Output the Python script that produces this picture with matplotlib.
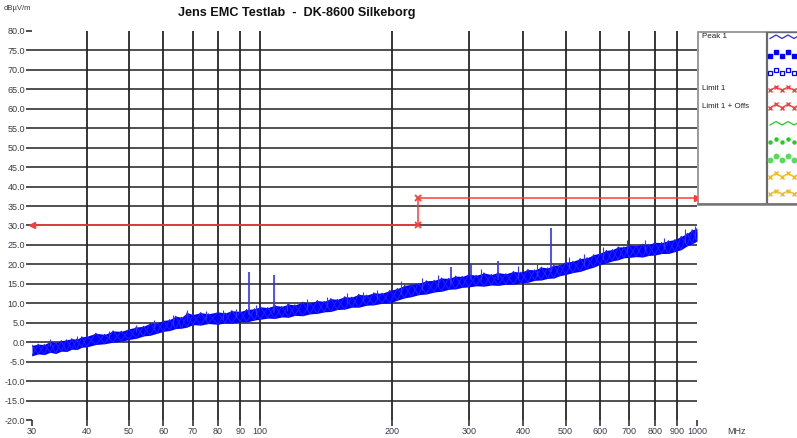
import matplotlib
matplotlib.use("Agg")
import matplotlib.pyplot as plt

plt.rcParams['font.family'] = ['Liberation Sans', 'DejaVu Sans']

# ---------------- data ----------------
freq = [30, 31, 32, 33, 34, 35, 36, 37, 38, 39, 40, 42, 44, 46, 48, 50, 52, 54, 56, 58,
        60, 62, 64, 66, 68, 70, 73, 76, 80, 83, 86, 90, 93, 97, 100, 104, 108, 112, 116, 120,
        125, 130, 135, 140, 145, 150, 156, 162, 168, 175, 182, 190, 198, 206, 214, 222, 230,
        240, 250, 260, 270, 280, 290, 300, 312, 325, 338, 350, 365, 380, 395, 410, 425, 440,
        455, 470, 485, 500, 520, 540, 560, 580, 600, 620, 640, 660, 680, 700, 725, 750, 775,
        800, 830, 860, 890, 920, 950, 975, 1000]
peak_lo = [-3.5, -3.0, -3.2, -2.6, -2.9, -2.3, -2.4, -1.8, -1.9, -1.3, -1.2, -0.6, -0.4, 0.0, 0.2,
           0.7, 1.0, 1.6, 1.8, 2.3, 2.8, 3.0, 3.5, 3.6, 3.9, 4.5, 4.4, 4.8, 4.6, 5.0, 4.9, 5.3,
           5.2, 5.7, 5.9, 6.2, 6.1, 6.5, 6.4, 6.9, 6.8, 7.3, 7.4, 7.8, 7.9, 8.4, 8.5, 9.0, 9.0,
           9.5, 9.6, 10.0, 10.1, 10.8, 11.4, 11.7, 12.2, 12.4, 12.9, 13.1, 13.6, 13.7, 14.1, 14.2,
           14.5, 14.4, 14.7, 14.6, 14.9, 14.9, 15.3, 15.4, 15.9, 16.0, 16.4, 16.5, 17.1, 17.4,
           17.9, 18.2, 18.8, 19.3, 20.0, 20.4, 20.9, 21.2, 21.7, 21.8, 22.0, 21.9, 22.3, 22.4,
           22.8, 22.8, 23.3, 23.8, 24.8, 25.3, 26.0]
peak_hi = [-0.8, -0.5, -0.6, 0.2, -0.1, 0.4, 0.6, 0.9, 0.8, 1.4, 1.5, 2.3, 2.0, 2.9, 2.8, 3.4,
           3.9, 4.1, 4.9, 5.0, 5.6, 5.8, 6.7, 6.4, 7.6, 7.1, 7.6, 7.3, 7.8, 7.5, 8.1, 7.9, 8.4,
           8.6, 9.1, 8.9, 9.5, 9.2, 9.8, 9.6, 10.3, 10.1, 10.7, 10.5, 11.2, 11.0, 11.7, 11.6,
           12.3, 12.1, 12.7, 12.6, 13.3, 13.8, 14.6, 14.9, 15.1, 15.8, 15.9, 16.5, 16.4, 17.0,
           16.9, 17.5, 17.2, 17.8, 17.4, 17.9, 17.6, 18.2, 18.0, 18.7, 18.6, 19.3, 19.1, 19.8,
           19.9, 20.6, 20.8, 21.5, 21.7, 22.5, 22.9, 23.6, 23.8, 24.5, 24.5, 25.0, 24.8, 25.2,
           25.1, 25.7, 25.6, 26.1, 26.4, 27.2, 28.0, 28.9, 29.2]

# isolated emissions (peaks) above the noise floor
spike_f = [94.4, 107.5, 273, 303, 351, 463]
spike_lo = [7.0, 7.5, 15.0, 16.0, 16.0, 18.0]
spike_hi = [18.0, 17.3, 19.3, 20.0, 21.0, 29.4]

# small noise whiskers
whisk_f = [33, 38, 45, 52, 57, 63, 68, 75, 82, 88, 98, 115, 128, 142, 158, 172, 185, 210,
           235, 255, 320, 390, 430, 510, 550, 610, 690, 760, 840, 940, 990]
whisk_lo = [-1.0, 0.0, 1.0, 2.5, 3.5, 4.5, 5.5, 6.0, 6.0, 6.5, 7.0, 8.0, 8.5, 9.0, 10.0,
            10.5, 11.0, 12.5, 13.5, 14.5, 16.0, 16.5, 17.0, 19.0, 19.5, 21.5, 23.0, 23.5,
            24.0, 25.5, 26.5]
whisk_hi = [0.8, 1.6, 2.8, 4.3, 5.6, 6.9, 8.3, 8.0, 8.4, 8.6, 9.5, 10.2, 11.0, 11.5, 12.6,
            13.0, 13.5, 15.8, 16.6, 17.4, 18.8, 19.5, 20.0, 22.0, 22.8, 24.6, 26.2, 26.2,
            26.8, 29.0, 29.8]

limit_f = [30, 230, 230, 1000]
limit_db = [30, 30, 37, 37]

xticks = [30, 40, 50, 60, 70, 80, 90, 100, 200, 300, 400, 500, 600, 700, 800, 900, 1000]
xtick_labels = [str(v) for v in xticks]
yticks = list(range(-20, 85, 5))

legend_names = ["Peak 1", "", "", "Limit 1", "Limit 1 + Offs", "", "", "", "", ""]

# ---------------- figure ----------------
W, H = 797, 438
fig = plt.figure(figsize=(W / 100, H / 100), dpi=100)
fig.patch.set_facecolor('white')

ax = fig.add_axes([32 / W, (H - 420) / H, 665 / W, 389 / H])
ax.set_xscale('log')
ax.set_xlim(30, 1000)
ax.set_ylim(-20, 80)
for s in ax.spines.values():
    s.set_visible(False)

for y in yticks:
    if -20 < y < 80:
        ax.axhline(y, color='#505050', lw=1.4, zorder=1)
for f in xticks:
    if 30 < f < 1000:
        ax.axvline(f, color='#262626', lw=1.3, zorder=1)

ax.set_xticks(xticks)
ax.set_xticklabels(xtick_labels)
ax.minorticks_off()
ax.set_yticks(yticks)
ax.set_yticklabels(["%.1f" % v for v in yticks])
ax.tick_params(axis='y', direction='out', length=4.5, width=1.2, color='#333333',
               labelsize=6.5, labelcolor='#3a3a4a', pad=0.5)
ax.tick_params(axis='x', direction='out', length=4, width=1.2, color='#333333',
               labelsize=6.5, labelcolor='#3a3a4a', pad=1)

# trace
ax.fill_between(freq, peak_lo, peak_hi, color='#0000ff', lw=0, zorder=3)
zig = [peak_lo[i] if i % 2 == 0 else peak_hi[i] for i in range(len(freq))]
zag = [peak_hi[i] if i % 2 == 0 else peak_lo[i] for i in range(len(freq))]
ax.plot(freq, zig, color='#2020ff', lw=0.8, zorder=3)
ax.plot(freq, zag, color='#2020ff', lw=0.8, zorder=3)
ax.vlines(whisk_f, whisk_lo, whisk_hi, color='#3535ff', lw=0.8, zorder=3)
ax.vlines(spike_f, spike_lo, spike_hi, color='#3030ff', lw=1.2, zorder=3)

# limit line
ax.plot(limit_f, limit_db, color='#ff3b3b', lw=1.1, zorder=4, clip_on=False)
ax.plot(limit_f[1:3], limit_db[1:3], ls='none', marker='x', ms=5, mew=1.3,
        color='#ff3b3b', zorder=5)
ax.plot(limit_f[0], limit_db[0], ls='none', marker='<', ms=4, color='#ff3b3b',
        zorder=5, clip_on=False)
ax.plot(limit_f[-1], limit_db[-1], ls='none', marker='>', ms=4, color='#ff3b3b',
        zorder=5, clip_on=False)

# texts
fig.text(297 / W, 1 - 13 / H, "Jens EMC Testlab  -  DK-8600 Silkeborg", ha='center',
         va='center', fontsize=9.1, fontweight='bold', color='#111111')
fig.text(4 / W, 1 - 9 / H, "dBµV/m", ha='left', va='center', fontsize=5.5, color='#3a3a4a')
fig.text(736 / W, 1 - 431 / H, "MHz", ha='center', va='center', fontsize=6.5, color='#3a3a4a')

# ---------------- legend box ----------------
lx0, lx1, ly0, ly1 = 698, 797, 32, 204
lg = fig.add_axes([lx0 / W, (H - ly1) / H, (lx1 - lx0) / W, (ly1 - ly0) / H])
lg.set_xlim(lx0, lx1)
lg.set_ylim(ly1, ly0)
lg.axis('off')
lg.add_patch(plt.Rectangle((lx0, ly0), lx1 - lx0 + 5, ly1 - ly0, fill=True,
                           facecolor='white', edgecolor='#8a8a8a', lw=1.2, clip_on=False))
lg.plot([767, 767], [ly0, ly1], color='#6a6a6a', lw=1.6)
lg.plot([767, 800], [ly0, ly0], color='#6a6a6a', lw=1.0, clip_on=False)
lg.plot([lx0, 800], [ly1, ly1], color='#777777', lw=1.8, clip_on=False)

zx = [770, 776, 782, 788, 794, 800]
zy = [1.5, -2.0, 1.5, -2.0, 1.5, -2.0]
styles = [
    dict(color='#2a2aff', ls='-', lw=0.9, marker=None),
    dict(color='#0000ff', ls='none', marker='s', ms=2.2),
    dict(color='#0000ff', ls='none', marker='s', ms=3, mfc='none', mew=0.9),
    dict(color='#ff3b3b', ls='-', lw=0.9, marker='x', ms=3.5, mew=1.0),
    dict(color='#ff3b3b', ls='-', lw=0.9, marker='x', ms=3.5, mew=1.0),
    dict(color='#22cc22', ls='-', lw=0.9, marker=None),
    dict(color='#22cc22', ls='none', marker='o', ms=2.2),
    dict(color='#55dd55', ls='none', marker='o', ms=3.2),
    dict(color='#f5b820', ls='-', lw=0.9, marker='x', ms=3.5, mew=1.0),
    dict(color='#f5b820', ls='-', lw=0.9, marker='x', ms=3.5, mew=1.0),
]
for i, (name, st) in enumerate(zip(legend_names, styles)):
    yc = 37 + 17.3 * i
    lg.plot(zx, [yc + d for d in zy], clip_on=True, **st)
    if name:
        lg.text(702, yc, name, ha='left', va='center', fontsize=5.8, color='#222222')

fig.savefig("out.png", dpi=100)
